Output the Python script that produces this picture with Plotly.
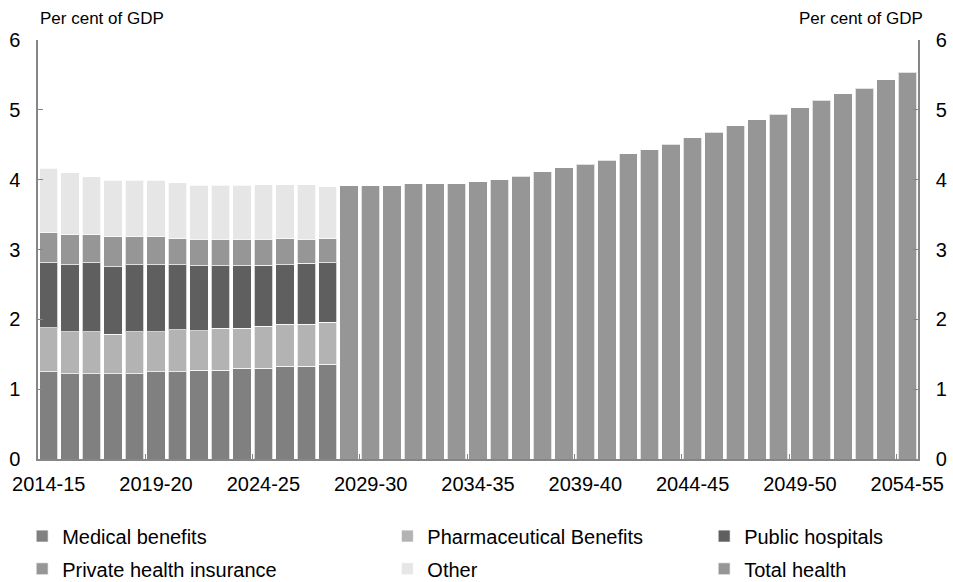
import plotly.graph_objects as go

# financial years 2014-15 .. 2054-55
years = [f"{y}-{str(y + 1)[2:]}" for y in range(2014, 2055)]
hist_years = years[:14]
proj_years = years[14:]
tick_labels = years[::5]

medical = [1.25, 1.22, 1.22, 1.22, 1.22, 1.25, 1.25, 1.27, 1.27, 1.30, 1.30, 1.33, 1.33, 1.36]
pharma = [0.63, 0.60, 0.60, 0.57, 0.60, 0.57, 0.60, 0.57, 0.60, 0.57, 0.60, 0.60, 0.60, 0.60]
hospitals = [0.93, 0.96, 0.99, 0.96, 0.96, 0.96, 0.93, 0.93, 0.90, 0.90, 0.875, 0.85, 0.875, 0.85]
private_ins = [0.43, 0.43, 0.40, 0.43, 0.40, 0.40, 0.375, 0.375, 0.375, 0.375, 0.375, 0.375, 0.345, 0.345]
other = [0.92, 0.89, 0.83, 0.81, 0.81, 0.81, 0.80, 0.775, 0.775, 0.775, 0.775, 0.775, 0.775, 0.745]
total_health = [3.91, 3.91, 3.91, 3.94, 3.94, 3.94, 3.97, 4.00, 4.05, 4.11, 4.17, 4.22,
                4.28, 4.37, 4.43, 4.51, 4.60, 4.68, 4.77, 4.86, 4.94, 5.03, 5.14, 5.23,
                5.31, 5.43, 5.54]

FONT = "Liberation Sans, Arial, sans-serif"
AXIS_GREY = "#868686"
edge = dict(color="rgba(255,255,255,0.7)", width=1)

series = [
    ("Medical benefits", hist_years, medical, "#808080", "legend7", "y"),
    ("Pharmaceutical Benefits", hist_years, pharma, "#b3b3b3", "legend2", "y"),
    ("Public hospitals", hist_years, hospitals, "#5f5f5f", "legend3", "y"),
    ("Private health insurance", hist_years, private_ins, "#969696", "legend4", "y"),
    ("Other", hist_years, other, "#e6e6e6", "legend5", "y"),
    ("Total health", proj_years, total_health, "#969696", "legend6", "y2"),
]

fig = go.Figure()
for name, xs, ys, col, leg, yax in series:
    fig.add_trace(go.Bar(x=xs, y=ys, name=name, marker=dict(color=col, line=edge),
                         legend=leg, yaxis=yax, hoverinfo="x+y+name"))

yax_common = dict(
    range=[0, 6],
    dtick=1,
    ticks="inside",
    ticklen=5,
    tickcolor=AXIS_GREY,
    showline=True,
    linecolor=AXIS_GREY,
    linewidth=1.5,
    showgrid=False,
    zeroline=False,
    automargin=False,
    ticklabelstandoff=12,
    tickfont=dict(size=20),
)

fig.update_layout(
    barmode="stack",
    bargap=0.14,
    width=953,
    height=582,
    margin=dict(l=38, r=35, t=40, b=123, autoexpand=False),
    plot_bgcolor="white",
    paper_bgcolor="white",
    font=dict(family=FONT, size=20, color="black"),
    showlegend=True,
    xaxis=dict(
        type="category",
        categoryorder="array",
        categoryarray=years,
        tickvals=tick_labels,
        tickangle=0,
        ticks="inside",
        ticklen=5,
        tickcolor=AXIS_GREY,
        tickson="boundaries",
        showline=True,
        linecolor=AXIS_GREY,
        linewidth=2,
        automargin=False,
        ticklabelstandoff=6,
        tickfont=dict(size=20),
    ),
    yaxis=yax_common,
    yaxis2=dict(yax_common, overlaying="y", side="right", matches="y"),
    annotations=[
        dict(text="Per cent of GDP", x=0, y=1.0525, xref="paper", yref="paper",
             xanchor="left", yanchor="middle", showarrow=False, font=dict(size=17)),
        dict(text="Per cent of GDP", x=1.008, y=1.0525, xref="paper", yref="paper",
             xanchor="right", yanchor="middle", showarrow=False, font=dict(size=17)),
    ],
)

# one legend per entry so the 3x2 grid lines up like the original
leg_pos = {
    "legend7": (-0.018, -0.184),
    "legend2": (0.397, -0.184),
    "legend3": (0.757, -0.184),
    "legend4": (-0.018, -0.262),
    "legend5": (0.397, -0.262),
    "legend6": (0.757, -0.262),
}
for key, (lx, ly) in leg_pos.items():
    fig.update_layout({key: dict(x=lx, y=ly, xanchor="left", yanchor="middle",
                                 bgcolor="rgba(0,0,0,0)", font=dict(size=20),
                                 itemwidth=30)})

# drop the browser's default 8px body margin so the figure fills the window
fig.write_html("out.html",
               config={"displayModeBar": False},
               post_script="document.body.style.margin='0';document.body.style.overflow='hidden';")
